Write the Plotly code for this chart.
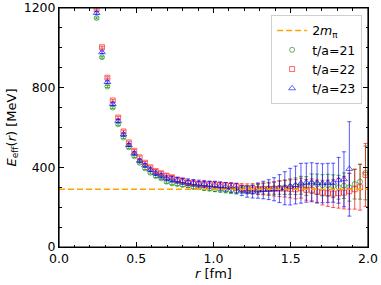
import plotly.graph_objects as go

# r values [fm]
r_fm = [0.2436, 0.2784, 0.3132, 0.3480, 0.3828, 0.4176, 0.4524, 0.4872, 0.5220, 0.5568,
        0.5916, 0.6264, 0.6612, 0.6960, 0.7308, 0.7656, 0.8004, 0.8352, 0.8700, 0.9048,
        0.9396, 0.9744, 1.0092, 1.0440, 1.0788, 1.1136, 1.1484, 1.1832, 1.2180, 1.2528,
        1.2876, 1.3224, 1.3572, 1.3920, 1.4268, 1.4616, 1.4964, 1.5312, 1.5660, 1.6008,
        1.6356, 1.6704, 1.7052, 1.7400, 1.7748, 1.8096, 1.8444, 1.8792, 1.9140, 1.9488,
        1.9836]

# t/a = 21 (green)
e21 = [1150, 953, 806, 700, 616, 550, 500, 456, 423, 395,
       373, 356, 345, 328, 320, 316, 312, 308, 302, 300,
       296, 294, 290, 288, 286, 284, 282, 288, 287, 288,
       290, 292, 293, 295, 298, 300, 303, 305, 310, 306,
       318, 315, 310, 310, 305, 300, 308, 300, 316, 328,
       372]
err21 = [5, 5, 5, 5, 5, 5, 5, 6, 6, 6,
         6, 7, 7, 8, 8, 8, 9, 9, 10, 10,
         11, 12, 12, 13, 14, 15, 16, 18, 20, 22,
         24, 26, 28, 30, 33, 36, 39, 42, 45, 47,
         49, 51, 53, 55, 57, 60, 64, 70, 75, 88,
         135]

# t/a = 22 (red)
e22 = [1195, 1003, 850, 736, 650, 580, 525, 483, 450, 423,
       400, 381, 370, 358, 350, 338, 333, 323, 320, 317,
       315, 315, 313, 310, 308, 306, 303, 298, 295, 293,
       292, 292, 292, 292, 293, 293, 292, 290, 295, 287,
       287, 278, 273, 270, 268, 270, 273, 280, 290, 300,
       362]
err22 = [5, 5, 5, 5, 6, 6, 6, 6, 7, 7,
         7, 8, 8, 9, 9, 10, 10, 11, 12, 12,
         13, 14, 15, 15, 16, 17, 18, 20, 22, 25,
         28, 30, 33, 36, 40, 42, 45, 48, 50, 52,
         55, 58, 62, 66, 70, 75, 82, 90, 100, 115,
         158]

# t/a = 23 (blue)
r23 = r_fm[:48]
e23 = [1175, 978, 828, 718, 633, 565, 512, 470, 433, 410,
       388, 370, 358, 345, 340, 335, 330, 325, 322, 318,
       316, 312, 310, 306, 302, 298, 295, 283, 278, 278,
       283, 286, 288, 290, 293, 295, 303, 311, 320, 323,
       325, 322, 320, 322, 323, 335, 340, 392]
err23 = [6, 6, 6, 6, 7, 7, 7, 8, 8, 9,
         10, 11, 12, 13, 14, 15, 16, 17, 17, 18,
         18, 19, 20, 21, 22, 23, 24, 25, 28, 32,
         38, 44, 50, 58, 70, 83, 92, 95, 100, 98,
         98, 98, 98, 98, 98, 115, 138, 237]

two_m_pi = 290
x_range = [0.0, 2.0]
y_range = [0, 1200]
x_ticks = [0.0, 0.5, 1.0, 1.5, 2.0]
x_ticktext = ["0.0", "0.5", "1.0", "1.5", "2.0"]
y_ticks = [0, 400, 800, 1200]

series = [
    ("t/a=21", r_fm, e21, err21, "0,128,0", "circle-open", 5, 2),
    ("t/a=22", r_fm, e22, err22, "255,0,0", "square-open", 5, 3),
    ("t/a=23", r23, e23, err23, "0,0,255", "triangle-up-open", 6, 4),
]

fig = go.Figure()
for name, xs, ys, es, rgb, sym, size, rank in series:
    fig.add_trace(go.Scatter(
        x=xs, y=ys, mode="markers", name=name, legendrank=rank, cliponaxis=True,
        marker=dict(symbol=sym, size=size, color=f"rgba({rgb},0.6)",
                    line=dict(width=1, color=f"rgba({rgb},0.6)")),
        error_y=dict(type="data", array=es, visible=True,
                     color=f"rgba({rgb},0.65)", thickness=1, width=2),
    ))

fig.add_trace(go.Scatter(
    x=x_range, y=[two_m_pi, two_m_pi], mode="lines", name="2<i>m</i><sub>π</sub>",
    legendrank=1,
    line=dict(color="#FFA500", width=1.5, dash="6px,3px"),
))

axis_common = dict(
    showline=True, linecolor="black", linewidth=1, mirror=True,
    ticks="inside", ticklen=5, tickwidth=1, tickcolor="black",
    showgrid=False, zeroline=False, automargin=False, ticklabeloverflow="allow",
    tickfont=dict(family="DejaVu Sans", size=12.5, color="black"),
)

fig.update_layout(
    xaxis=dict(
        range=x_range, tickvals=x_ticks, ticktext=x_ticktext,
        minor=dict(ticks="inside", ticklen=2.5, dtick=0.1, tickcolor="black", showgrid=False),
        title=dict(text="<i>r</i> [fm]", font=dict(family="DejaVu Sans", size=13, color="black"),
                   standoff=2),
        **axis_common,
    ),
    xaxis2=dict(
        range=x_range, tickvals=x_ticks, overlaying="x", side="top", matches="x",
        showticklabels=False,
        minor=dict(ticks="inside", ticklen=2.5, dtick=0.1, tickcolor="black", showgrid=False),
        **axis_common,
    ),
    yaxis=dict(
        range=y_range, tickvals=y_ticks,
        minor=dict(ticks="inside", ticklen=2.5, dtick=100, tickcolor="black", showgrid=False),
        title=dict(text="<i>E</i><sub>eff</sub>(<i>r</i>) [MeV]",
                   font=dict(family="DejaVu Sans", size=13, color="black"), standoff=4),
        **axis_common,
    ),
    yaxis2=dict(
        range=y_range, tickvals=y_ticks, overlaying="y", side="right", matches="y",
        showticklabels=False,
        minor=dict(ticks="inside", ticklen=2.5, dtick=100, tickcolor="black", showgrid=False),
        **axis_common,
    ),
)

# invisible anchor trace so the mirrored top/right axes are drawn
fig.add_trace(go.Scatter(x=x_range, y=y_range, xaxis="x2", yaxis="y2", mode="markers",
                         marker=dict(opacity=0), showlegend=False, hoverinfo="skip"))

# plot frame
fig.add_shape(type="rect", xref="paper", yref="paper", x0=0, x1=1, y0=0, y1=1,
              line=dict(color="black", width=1.2), layer="above")

fig.update_layout(
    width=381, height=285,
    margin=dict(l=59, r=13, t=8, b=38),
    plot_bgcolor="white", paper_bgcolor="white",
    font=dict(family="DejaVu Sans", size=12.5, color="black"),
    legend=dict(x=0.981, y=0.971, xanchor="right", yanchor="top",
                bgcolor="rgba(255,255,255,0.8)", bordercolor="#d0d0d0", borderwidth=1,
                font=dict(family="DejaVu Sans", size=12.5), tracegroupgap=0,
                itemwidth=30),
    showlegend=True,
)

fig.write_html("out.html", config={"displayModeBar": False},
               post_script="document.body.style.margin='0';document.body.style.overflow='hidden';")
